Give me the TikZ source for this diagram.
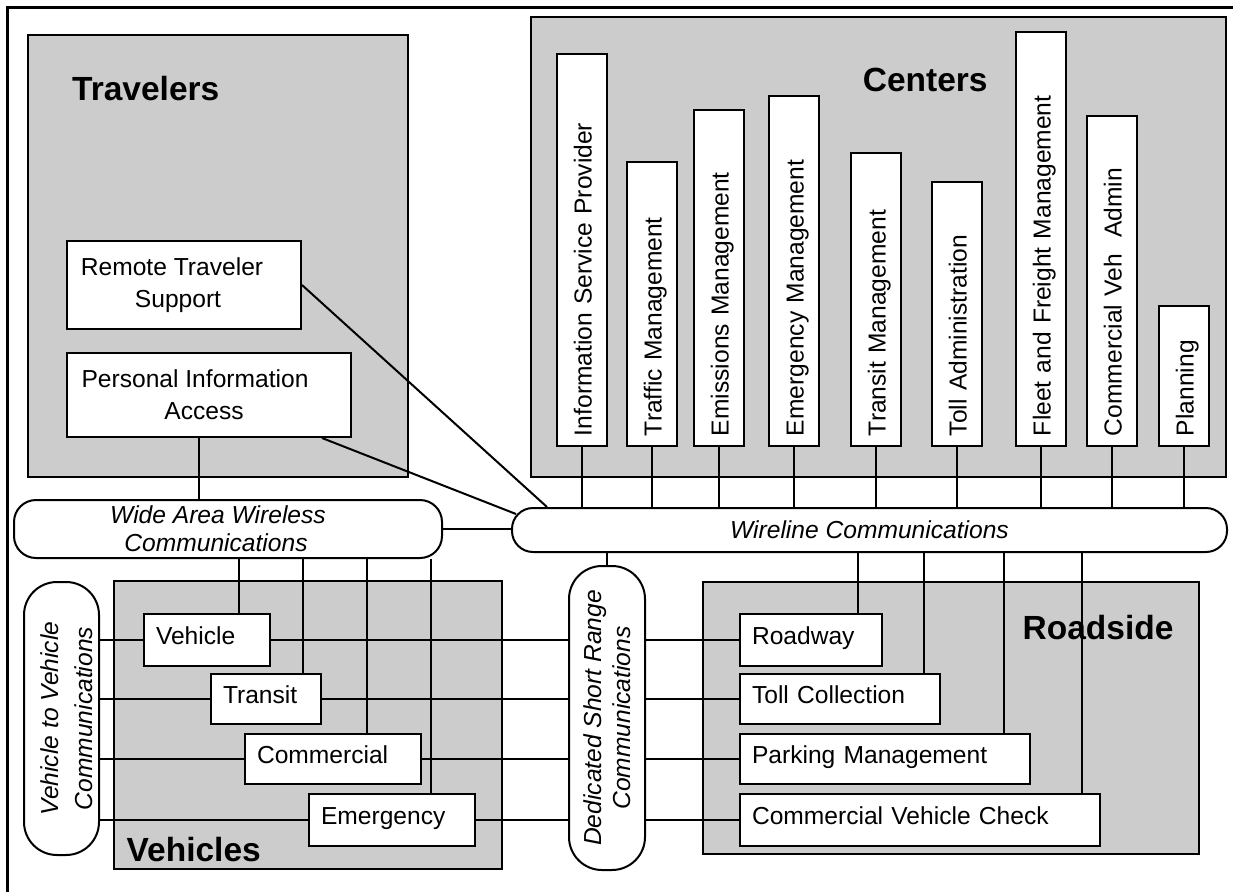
\documentclass[tikz,border=0pt]{standalone}
\usepackage{fontspec}
\setmainfont{Liberation Sans}
\usetikzlibrary{calc}
\pgfdeclarelayer{back}
\pgfdeclarelayer{wires}
\pgfsetlayers{back,wires,main}
\tikzset{
  area/.style={draw,line width=2pt,fill=black!20,anchor=north west,inner sep=0pt},
  areatitle/.style={anchor=base west,inner sep=0pt,font=\fontsize{33.5}{40}\selectfont\bfseries},
  box/.style={draw,line width=2pt,fill=white,anchor=north west,inner xsep=12pt,inner ysep=0pt,text height=16pt,text depth=7pt,align=left,text width=#1,font=\fontsize{24.6}{30}\selectfont},
  box2/.style={draw,line width=2pt,fill=white,anchor=north west,inner sep=0pt,align=center,font=\fontsize{24.6}{32}\selectfont},
  ctrbox/.style={draw,line width=2pt,fill=white,rotate=90,anchor=west,minimum height=50pt,inner xsep=10pt,inner ysep=0pt,text height=21pt,text depth=2pt,align=left,text width=#1,font=\fontsize{24.6}{30}\selectfont},
  pill/.style={draw,line width=2pt,fill=white,inner sep=0pt,align=center,font=\fontsize{24.6}{28}\selectfont\itshape},
  link/.style={line width=2pt}
}

\begin{document}
\begin{tikzpicture}[x=1pt,y=-1pt]
  \useasboundingbox (0,0) rectangle (1233,891);
  \begin{pgfonlayer}{back}
    \draw[line width=3pt] (7.5,900) -- (7.5,7.5) -- (1240,7.5);
    \node[area,minimum width=380pt,minimum height=442pt] (travelers) at (27,34) {};
    \node[area,minimum width=695pt,minimum height=460pt] (centers) at (530,16) {};
    \node[area,minimum width=388pt,minimum height=288pt] (vehicles) at (113,580) {};
    \node[area,minimum width=496pt,minimum height=272pt] (roadside) at (702,581) {};
    \node[areatitle] (travtitle) at (72,100) {Travelers};
    \node[areatitle] (ctrtitle) at (862.6,91) {Centers};
    \node[areatitle] (vehtitle) at (126.5,861) {Vehicles};
    \node[areatitle] (roadtitle) at (1022.5,639) {Roadside};
  \end{pgfonlayer}

  \node[box2,minimum width=234pt,minimum height=88pt] (rts) at (66,240) {Remote Traveler\rule{24pt}{0pt}\\Support\rule{12pt}{0pt}};
  \node[box2,minimum width=284pt,minimum height=84pt] (pia) at (66,352) {Personal Information\rule{28pt}{0pt}\\Access\rule{10pt}{0pt}};

  \node[ctrbox=372pt] (isp) at (582,447) {Information Service Provider};
  \node[ctrbox=264pt] (traffic) at (652,447) {Traffic Management};
  \node[ctrbox=316pt] (emissions) at (719,447) {Emissions Management};
  \node[ctrbox=330pt] (emergmgmt) at (794,447) {Emergency Management};
  \node[ctrbox=273pt] (transitmgmt) at (876,447) {Transit Management};
  \node[ctrbox=244pt] (tolladmin) at (957,447) {Toll Administration};
  \node[ctrbox=394pt] (fleet) at (1041,447) {Fleet and Freight Management};
  \node[ctrbox=310pt] (cvadmin) at (1112,447) {Commercial Veh~~Admin};
  \node[ctrbox=120pt] (planning) at (1184,447) {Planning};

  \node[pill,minimum width=428pt,minimum height=58pt,rounded corners=22pt] (wide) at (228,529) {Wide Area Wireless\rule{20pt}{0pt}\\Communications\rule{24pt}{0pt}};
  \node[pill,minimum width=715pt,minimum height=44pt,rounded corners=21pt] (wire) at (869.5,530) {Wireline Communications};
  \node[pill,rotate=90,minimum width=273pt,minimum height=75pt,rounded corners=33pt,font=\fontsize{24.6}{34}\selectfont\itshape] (v2v) at (61.5,718.5) {\rule{0pt}{28pt}Vehicle to Vehicle\\Communications};
  \node[pill,rotate=90,minimum width=304pt,minimum height=76pt,rounded corners=33pt,font=\fontsize{24.6}{29}\selectfont\itshape] (dsrc) at (607,718) {Dedicated Short Range\\Communications};

  \node[box=102pt,minimum height=52pt] (vehicle) at (143,613) {Vehicle};
  \node[box=86pt,minimum height=50pt] (transit) at (210,673) {Transit};
  \node[box=152pt,minimum height=50pt] (commercial) at (244,733) {Commercial};
  \node[box=142pt,minimum height=52pt] (emergency) at (308,793) {Emergency};

  \node[box=118pt,minimum height=52pt] (roadway) at (739,613) {Roadway};
  \node[box=176pt,minimum height=50pt] (toll) at (739,673) {Toll Collection};
  \node[box=266pt,minimum height=50pt] (parking) at (739,733) {Parking Management};
  \node[box=336pt,minimum height=52pt] (cvcheck) at (739,793) {Commercial Vehicle Check};

  \begin{pgfonlayer}{wires}
    \draw[link] (rts.east) -- ($(wire.north west)+(36,0)$);
    \draw[link] ($(pia.south east)+(-30,0)$) -- ($(wire.west)+(5,-16)$);
    \draw[link] (pia.south) ++(-10,0) coordinate (p0) -- (p0 |- wide.north);
    \draw[link] (wide.east) -- (wide.east -| wire.west);

    \draw[link] (isp.west) -- (isp.west |- wire.north);
    \draw[link] (traffic.west) -- (traffic.west |- wire.north);
    \draw[link] (emissions.west) -- (emissions.west |- wire.north);
    \draw[link] (emergmgmt.west) -- (emergmgmt.west |- wire.north);
    \draw[link] (transitmgmt.west) -- (transitmgmt.west |- wire.north);
    \draw[link] (tolladmin.west) -- (tolladmin.west |- wire.north);
    \draw[link] (fleet.west) -- (fleet.west |- wire.north);
    \draw[link] (cvadmin.west) -- (cvadmin.west |- wire.north);
    \draw[link] (planning.west) -- (planning.west |- wire.north);

    \draw[link] (dsrc.east) -- (dsrc.east |- wire.south);

    \draw[link] (vehicle.north east) ++(-32,0) coordinate (v1) -- (v1 |- wide.south);
    \draw[link] (transit.north east) ++(-19,0) coordinate (v2) -- (v2 |- wide.south);
    \draw[link] (commercial.north east) ++(-55,0) coordinate (v3) -- (v3 |- wide.south);
    \draw[link] (emergency.north east) ++(-45,0) coordinate (v4) -- (v4 |- wide.south);

    \draw[link] (roadway.north east) ++(-25,0) coordinate (r1) -- (r1 |- wire.south);
    \draw[link] (toll.north east) ++(-17,0) coordinate (r2) -- (r2 |- wire.south);
    \draw[link] (parking.north east) ++(-27,0) coordinate (r3) -- (r3 |- wire.south);
    \draw[link] (cvcheck.north east) ++(-19,0) coordinate (r4) -- (r4 |- wire.south);

    \draw[link] (vehicle.west -| v2v.south) -- (vehicle.west);
    \draw[link] (vehicle.east) -- (vehicle.east -| dsrc.north);
    \draw[link] (transit.west -| v2v.south) -- (transit.west);
    \draw[link] (transit.east) -- (transit.east -| dsrc.north);
    \draw[link] (commercial.west -| v2v.south) -- (commercial.west);
    \draw[link] (commercial.east) -- (commercial.east -| dsrc.north);
    \draw[link] (emergency.west -| v2v.south) -- (emergency.west);
    \draw[link] (emergency.east) -- (emergency.east -| dsrc.north);

    \draw[link] (roadway.west -| dsrc.south) -- (roadway.west);
    \draw[link] (toll.west -| dsrc.south) -- (toll.west);
    \draw[link] (parking.west -| dsrc.south) -- (parking.west);
    \draw[link] (cvcheck.west -| dsrc.south) -- (cvcheck.west);
  \end{pgfonlayer}
\end{tikzpicture}
\end{document}
